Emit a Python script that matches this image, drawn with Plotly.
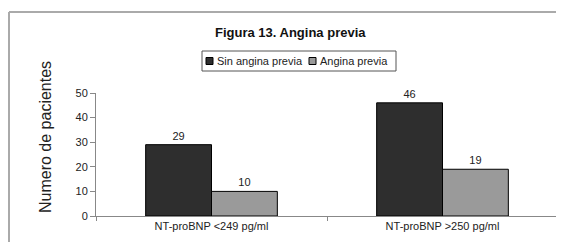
import plotly.graph_objects as go

categories = ["NT-proBNP <249 pg/ml", "NT-proBNP >250 pg/ml"]
sin_angina = [29, 46]
con_angina = [10, 19]
series_names = ["Sin angina previa", "Angina previa"]
series_colors = ["#2e2e2e", "#9a9a9a"]
y_ticks = [0, 10, 20, 30, 40, 50]

# page body has an 8px margin: work in screen pixels, convert to figure pixels
OFF = 8
W, H = 564 - OFF, 242 - OFF
L, R, T, B = 96 - OFF, 6, 93 - OFF, 34 - OFF
pw, ph = W - L - R, H - T - B

def px_x(px):
    return (px - OFF - L) / pw

def px_y(py):
    return (H - B - (py - OFF)) / ph

font = "Liberation Sans, Arial, sans-serif"

fig = go.Figure()
for name, vals, col in zip(series_names, [sin_angina, con_angina], series_colors):
    fig.add_bar(x=categories, y=vals, name=name,
                marker=dict(color=col, line=dict(color="#000000", width=1)),
                text=vals, textposition="outside", cliponaxis=False,
                textfont=dict(size=11, color="#222"))

shapes = [
    # outer chart border (top and left edges; the rest runs off the picture)
    dict(type="line", xref="paper", yref="paper",
         x0=px_x(9), x1=px_x(570), y0=px_y(12), y1=px_y(12),
         line=dict(color="#aaa", width=2), layer="below"),
    dict(type="line", xref="paper", yref="paper",
         x0=px_x(9), x1=px_x(9), y0=px_y(12), y1=px_y(250),
         line=dict(color="#aaa", width=2), layer="below"),
    # legend box
    dict(type="rect", xref="paper", yref="paper",
         x0=px_x(202), x1=px_x(396), y0=px_y(71), y1=px_y(51),
         line=dict(color="#555", width=1)),
]
annotations = [
    dict(text="<b>Figura 13. Angina previa</b>", xref="paper", yref="paper",
         x=px_x(290), y=px_y(32), xanchor="center", yanchor="middle",
         showarrow=False, font=dict(size=13, family=font, color="#111")),
    dict(text="Numero de pacientes", xref="paper", yref="paper",
         x=px_x(45), y=px_y(137), xanchor="center", yanchor="middle",
         textangle=-90, showarrow=False,
         font=dict(size=16, family=font, color="#222")),
]
# manual legend entries
leg_sq_x = [206, 309]
for i, (name, col) in enumerate(zip(series_names, series_colors)):
    sx = leg_sq_x[i]
    shapes.append(dict(type="rect", xref="paper", yref="paper",
                       x0=px_x(sx), x1=px_x(sx + 7), y0=px_y(64.5), y1=px_y(57.5),
                       fillcolor=col, line=dict(color="#000", width=1)))
    annotations.append(dict(text=name, xref="paper", yref="paper",
                            x=px_x(sx + 9), y=px_y(61), xanchor="left",
                            yanchor="middle", showarrow=False,
                            font=dict(size=11, family=font, color="#222")))

fig.update_layout(
    width=W, height=H,
    margin=dict(l=L, r=R, t=T, b=B, autoexpand=False),
    paper_bgcolor="white", plot_bgcolor="white",
    font=dict(family=font, size=10, color="#222"),
    barmode="group", bargap=0.43, bargroupgap=0,
    showlegend=False,
    xaxis=dict(showline=True, linecolor="#888", linewidth=1,
               ticks="outside", ticklen=4, tickcolor="#888",
               tickson="boundaries", tickfont=dict(size=11),
               showgrid=False),
    yaxis=dict(range=[0, 50], tickvals=y_ticks, showline=True,
               linecolor="#888", linewidth=1, ticks="outside", ticklen=5,
               tickcolor="#888", showgrid=False, zeroline=False,
               tickfont=dict(size=11)),
    shapes=shapes,
    annotations=annotations,
)

fig.write_html("out.html")
